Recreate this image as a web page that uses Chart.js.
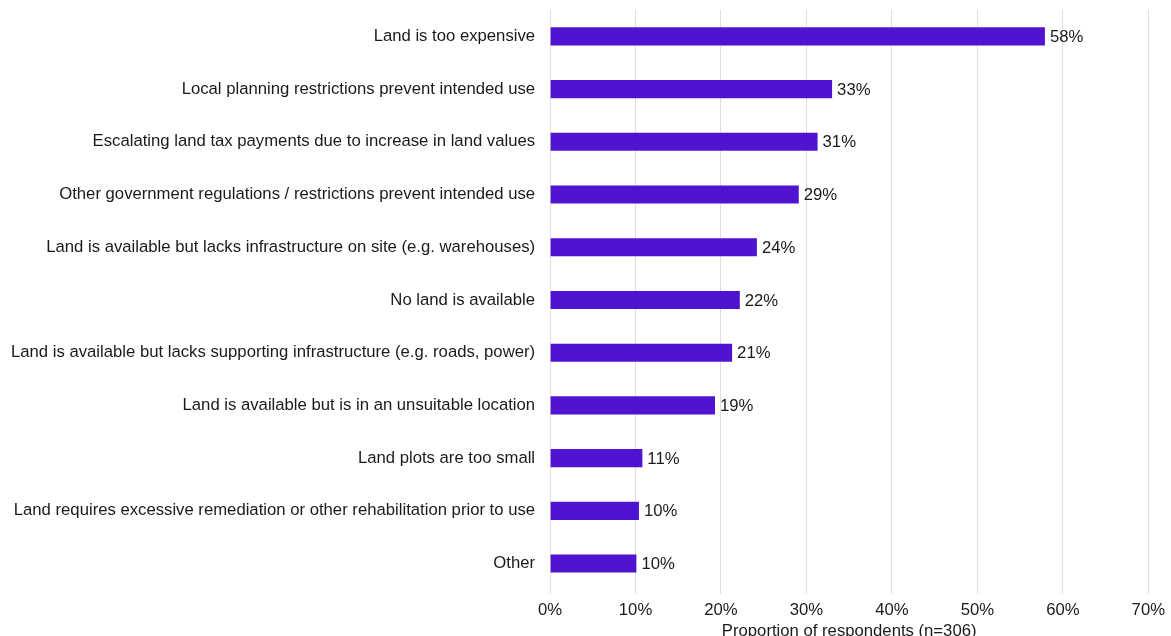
<!DOCTYPE html>
<html>
<head>
<meta charset="utf-8">
<script src="https://cdn.jsdelivr.net/npm/chart.js@4"></script>
<style>
  html, body { margin: 0; padding: 0; background: #fff; overflow: hidden; }
  #wrap { width: 1171px; height: 648px; margin-top: -7px; }
</style>
</head>
<body>
<div id="wrap"><canvas id="chart"></canvas></div>
<script>
const categories = [
  'Land is too expensive',
  'Local planning restrictions prevent intended use',
  'Escalating land tax payments due to increase in land values',
  'Other government regulations / restrictions prevent intended use',
  'Land is available but lacks infrastructure on site (e.g. warehouses)',
  'No land is available',
  'Land is available but lacks supporting infrastructure (e.g. roads, power)',
  'Land is available but is in an unsuitable location',
  'Land plots are too small',
  'Land requires excessive remediation or other rehabilitation prior to use',
  'Other'
];
const shares = [57.9, 33.0, 31.3, 29.1, 24.2, 22.2, 21.3, 19.3, 10.8, 10.4, 10.1];
const axisTicks = [0, 10, 20, 30, 40, 50, 60, 70];

const FONT = '"Liberation Sans", Arial, sans-serif';
const SIZE = 16.7;

// draw the % value just past the end of each bar
const valueLabels = {
  id: 'valueLabels',
  afterDatasetsDraw(chart) {
    const ctx = chart.ctx;
    const meta = chart.getDatasetMeta(0);
    ctx.save();
    ctx.font = SIZE + 'px ' + FONT;
    ctx.fillStyle = '#1a1a1a';
    ctx.textBaseline = 'middle';
    ctx.textAlign = 'left';
    meta.data.forEach((bar, i) => {
      ctx.fillText(Math.round(shares[i]) + '%', bar.x + 5, bar.y + 1);
    });
    ctx.restore();
  }
};

new Chart(document.getElementById('chart'), {
  type: 'bar',
  data: {
    labels: categories,
    datasets: [{
      data: shares,
      backgroundColor: '#5014d0',
      borderWidth: 0,
      barPercentage: 0.7,
      categoryPercentage: 0.49
    }]
  },
  options: {
    indexAxis: 'y',
    responsive: true,
    maintainAspectRatio: false,
    animation: false,
    layout: { padding: { top: 0, right: 22, left: 4, bottom: 0 } },
    plugins: {
      legend: { display: false },
      tooltip: { enabled: false }
    },
    scales: {
      x: {
        min: 0,
        max: 70,
        afterBuildTicks: (axis) => { axis.ticks = axisTicks.map(v => ({ value: v })); },
        grid: { color: '#dedede', lineWidth: 1, tickLength: 4, drawTicks: true },
        border: { display: false },
        ticks: {
          color: '#1a1a1a',
          font: { family: FONT, size: SIZE },
          padding: 6,
          callback: (v) => v + '%'
        },
        title: {
          display: true,
          text: 'Proportion of respondents (n=306)',
          color: '#1a1a1a',
          font: { family: FONT, size: SIZE },
          padding: { top: -5, bottom: 0 }
        }
      },
      y: {
        grid: { display: false },
        border: { display: false },
        ticks: {
          color: '#1a1a1a',
          font: { family: FONT, size: SIZE },
          padding: 7
        }
      }
    }
  },
  plugins: [valueLabels]
});
</script>
</body>
</html>
